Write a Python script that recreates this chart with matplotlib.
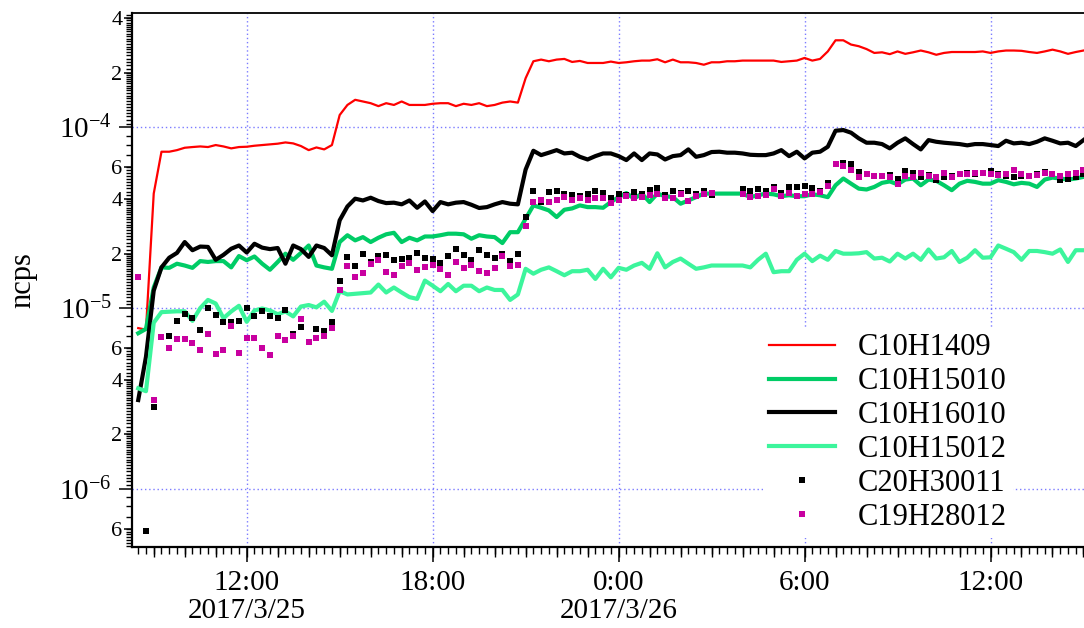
import matplotlib

matplotlib.use("Agg")

import matplotlib.pyplot as plt
import numpy as np
import pandas as pd
from matplotlib.ticker import FixedLocator, NullFormatter, NullLocator
import matplotlib.dates as mdates

nan = np.nan

# 15-minute samples, 2017/3/25 08:30 .. 2017/3/26 15:00 (values in units of 1e-5 ncps)
times = pd.date_range("2017-03-25 08:30", periods=123, freq="15min")

c10h1409 = [
    0.775, 0.76, 4.30, 7.33, 7.33, 7.48, 7.71, 7.78, 7.84, 7.78,
    7.98, 7.84, 7.65, 7.78, 7.81, 7.91, 7.98, 8.05, 8.12, 8.25,
    8.15, 7.88, 7.48, 7.74, 7.55, 7.98, 11.7, 13.3, 14.2, 13.9,
    13.6, 13.1, 13.6, 13.3, 13.9, 13.3, 13.3, 13.3, 13.5, 13.6,
    13.6, 13.1, 13.5, 13.3, 13.6, 13.1, 13.3, 13.7, 13.9, 13.7,
    18.7, 23.2, 23.7, 23.2, 23.7, 23.9, 23.0, 23.3, 22.7, 22.7,
    22.7, 23.1, 22.7, 22.9, 23.2, 23.4, 23.4, 23.8, 22.9, 23.7,
    22.9, 22.9, 22.7, 22.2, 22.9, 22.9, 23.2, 23.2, 23.4, 23.4,
    23.4, 23.4, 23.4, 23.0, 23.2, 23.4, 24.2, 23.4, 23.9, 26.3,
    30.3, 30.3, 28.7, 28.1, 27.1, 25.8, 26.0, 25.4, 26.3, 25.5,
    26.0, 26.6, 26.0, 25.2, 25.8, 26.1, 26.1, 26.1, 26.1, 26.3,
    25.8, 26.3, 26.6, 26.6, 26.5, 26.1, 25.8, 26.3, 26.9, 26.3,
    25.5, 26.1, 26.6,
]

c10h15010 = [
    0.726, 0.767, 1.30, 1.68, 1.67, 1.76, 1.72, 1.67, 1.82, 1.80,
    1.82, 1.82, 1.68, 1.94, 1.84, 1.93, 1.76, 1.63, 1.80, 2.00,
    1.85, 2.02, 2.22, 1.72, 1.68, 1.65, 2.32, 2.53, 2.37, 2.47,
    2.32, 2.45, 2.56, 2.61, 2.32, 2.45, 2.37, 2.49, 2.49, 2.53,
    2.58, 2.58, 2.56, 2.42, 2.53, 2.49, 2.47, 2.29, 2.63, 2.63,
    3.12, 3.70, 3.59, 3.47, 3.19, 3.50, 3.56, 3.70, 3.62, 3.62,
    3.59, 3.86, 4.11, 4.33, 4.03, 4.30, 3.86, 4.30, 4.16, 4.11,
    3.78, 3.94, 4.11, 4.30, 4.30, 4.30, 4.30, 4.30, 4.30, 4.11,
    4.21, 4.30, 4.26, 4.16, 4.21, 4.16, 4.16, 4.26, 4.21, 4.11,
    4.78, 5.21, 4.88, 4.58, 4.53, 4.68, 4.93, 5.02, 4.84, 5.14,
    5.21, 4.78, 5.14, 5.06, 4.78, 4.49, 4.88, 5.06, 4.99, 4.88,
    4.88, 5.10, 4.99, 4.84, 4.93, 4.88, 4.68, 5.14, 5.27, 5.21,
    5.14, 5.21, 5.32,
]

c10h16010 = [
    0.31, 0.538, 1.25, 1.68, 1.90, 2.02, 2.32, 2.09, 2.19, 2.18,
    1.85, 1.97, 2.13, 2.22, 2.03, 2.27, 2.16, 2.12, 2.15, 1.76,
    2.22, 2.12, 1.92, 2.22, 2.15, 1.96, 3.06, 3.65, 4.03, 3.94,
    4.08, 3.91, 3.81, 3.83, 3.75, 3.94, 3.59, 3.89, 3.44, 3.86,
    3.75, 3.83, 3.86, 3.73, 3.58, 3.62, 3.75, 3.86, 3.78, 3.75,
    5.84, 7.42, 7.02, 7.24, 7.48, 7.17, 7.24, 6.87, 6.64, 6.93,
    7.17, 7.17, 6.93, 6.59, 7.17, 6.59, 7.17, 7.08, 6.64, 6.93,
    7.02, 7.55, 6.87, 7.02, 7.30, 7.33, 7.24, 7.24, 7.17, 7.05,
    7.02, 7.02, 7.17, 7.48, 6.93, 7.33, 6.73, 7.24, 7.33, 7.81,
    9.58, 9.66, 9.34, 8.69, 8.22, 8.22, 8.08, 7.65, 8.22, 8.69,
    8.08, 7.55, 8.50, 8.32, 8.22, 8.15, 8.08, 7.95, 8.08, 8.08,
    7.98, 7.88, 8.43, 8.15, 8.22, 8.08, 8.32, 8.69, 8.43, 8.15,
    8.22, 7.88, 8.50,
]

c10h15012 = [
    0.36, 0.347, 0.83, 0.95, 0.955, 0.96, 0.96, 0.85, 1.00, 1.11,
    1.06, 0.88, 0.958, 1.03, 0.84, 0.97, 0.995, 0.97, 0.925, 0.958,
    0.90, 1.02, 1.04, 1.01, 1.085, 0.965, 1.24, 1.19, 1.20, 1.21,
    1.22, 1.35, 1.22, 1.30, 1.22, 1.15, 1.125, 1.42, 1.33, 1.24,
    1.36, 1.24, 1.33, 1.33, 1.24, 1.30, 1.26, 1.26, 1.11, 1.19,
    1.65, 1.55, 1.63, 1.68, 1.60, 1.52, 1.60, 1.60, 1.63, 1.45,
    1.65, 1.48, 1.67, 1.63, 1.72, 1.78, 1.65, 2.01, 1.68, 1.80,
    1.88, 1.76, 1.65, 1.68, 1.72, 1.72, 1.72, 1.72, 1.72, 1.68,
    1.85, 2.00, 1.58, 1.60, 1.60, 1.85, 2.00, 1.82, 1.95, 1.85,
    2.07, 2.00, 2.00, 2.01, 2.04, 1.88, 1.90, 1.81, 2.00, 1.88,
    2.00, 1.85, 2.11, 1.88, 1.91, 2.07, 1.80, 1.90, 2.09, 1.90,
    1.91, 2.22, 2.13, 2.04, 1.85, 2.07, 2.07, 2.04, 2.00, 2.11,
    1.80, 2.09, 2.09,
]

c20h30011 = [
    nan, 0.0586, 0.284, 0.69, 0.70, 0.85, 0.925, 0.885, 0.76, 1.00,
    0.918, 0.843, 0.84, 0.85, 1.00, 0.905, 0.958, 0.905, 0.88, 0.975,
    0.72, 0.79, nan, 0.77, 0.748, 0.835, 1.42, 1.92, 1.72, 2.00,
    1.80, 1.93, 1.97, 1.85, 1.88, 1.90, 2.01, 1.90, 1.88, 1.78,
    1.94, 2.11, 1.96, 1.85, 2.09, 1.96, 1.90, 1.98, 1.82, 1.98,
    3.21, 4.45, 3.86, 4.39, 4.45, 4.30, 4.21, 4.16, 4.26, 4.45,
    4.33, 4.08, 4.30, 4.21, 4.39, 4.26, 4.53, 4.64, 4.21, 4.45,
    4.33, 4.45, 4.26, 4.45, 4.21, nan, nan, nan, 4.58, 4.45,
    4.58, 4.45, 4.68, 4.33, 4.68, 4.68, 4.74, 4.64, 4.45, 4.93,
    6.26, 6.35, 6.30, 5.66, 5.50, 5.36, 5.40, 5.43, 5.21, 5.74,
    5.59, 5.32, 5.43, 5.14, 5.32, 5.36, 5.50, 5.59, 5.50, 5.59,
    5.74, 5.50, 5.36, 5.32, 5.36, 5.36, 5.50, 5.66, 5.50, 5.14,
    5.21, 5.32, 5.54,
]

c19h28012 = [
    1.48, nan, 0.31, 0.69, 0.605, 0.675, 0.675, 0.645, 0.59, 0.72,
    0.56, 0.585, 0.80, 0.565, 0.68, 0.68, 0.605, 0.548, 0.70, 0.665,
    0.70, 0.87, 0.65, 0.68, 0.70, 0.78, 1.26, 1.72, 1.48, 1.56,
    1.76, 1.85, 1.58, 1.53, 1.70, 1.78, 1.63, 1.68, 1.74, 1.65,
    1.515, 1.79, 1.67, 1.74, 1.61, 1.56, 1.67, 1.93, 1.72, 1.74,
    2.83, 3.86, 3.98, 3.86, 3.98, 4.11, 3.98, 4.08, 3.94, 4.08,
    4.08, 3.81, 3.98, 4.16, 4.08, 4.11, 4.21, 4.30, 4.08, 4.08,
    4.26, 3.91, 4.16, 4.26, 4.33, nan, nan, nan, 4.26, 4.11,
    4.16, 4.21, 4.58, 4.16, 4.33, 4.16, 4.26, 4.30, 4.39, 4.72,
    6.26, 6.10, 5.84, 5.32, 5.50, 5.36, 5.36, 5.32, 4.88, 5.36,
    5.32, 5.59, 5.36, 5.32, 5.59, 5.32, 5.54, 5.54, 5.59, 5.59,
    5.50, 5.43, 5.50, 5.79, 5.54, 5.36, 5.43, 5.59, 5.50, 5.36,
    5.50, 5.59, 5.84,
]

# axis ticks
xtick_times = pd.to_datetime(["2017-03-25 12:00", "2017-03-25 18:00", "2017-03-26 00:00",
                              "2017-03-26 06:00", "2017-03-26 12:00"])
xtick_labels = ["12:00\n2017/3/25", "18:00", "0:00\n2017/3/26", "6:00", "12:00"]
decade_ticks = [1e-6, 1e-5, 1e-4]
decade_labels = [r"$10^{-6}$", r"$10^{-5}$", r"$10^{-4}$"]
sub_ticks = [6e-7, 2e-6, 4e-6, 6e-6, 2e-5, 4e-5, 6e-5, 2e-4, 4e-4]
sub_labels = ["6", "2", "4", "6", "2", "4", "6", "2", "4"]

plt.rcParams.update({
    "font.family": "Liberation Serif",
    "mathtext.fontset": "custom",
    "mathtext.rm": "Liberation Serif",
    "mathtext.it": "Liberation Serif",
    "figure.facecolor": "white",
})

fig = plt.figure(figsize=(10.84, 6.28), dpi=100)
ax = fig.add_axes([0.1218, 0.129, 0.8782, 0.850])

scale = 1e-5
ax.plot(times, np.array(c10h1409) * scale, color="#ff0000", lw=1.6, label="C10H1409")
ax.plot(times, np.array(c10h15010) * scale, color="#00cc66", lw=3.0, label="C10H15010")
ax.plot(times, np.array(c10h16010) * scale, color="black", lw=3.0, label="C10H16010")
ax.plot(times, np.array(c10h15012) * scale, color="#3cf59c", lw=3.0, label="C10H15012")
ax.plot(times, np.array(c20h30011) * scale, ls="none", marker="s", ms=5, mew=0,
        color="black", label="C20H30011", zorder=3)
ax.plot(times, np.array(c19h28012) * scale, ls="none", marker="s", ms=5, mew=0,
        color="#c800a0", label="C19H28012", zorder=3)

ax.set_yscale("log")
ax.set_ylim(4.77e-7, 4.28e-4)
ax.set_xlim(pd.Timestamp("2017-03-25 08:18"), pd.Timestamp("2017-03-26 15:01"))

# y: decades (long, labelled), fine unlabelled ticks as minors
fine = []
for p in range(-7, -3):
    for s in np.concatenate([np.arange(1.0, 2.0, 0.05), np.arange(2.0, 4.0, 0.1),
                             np.arange(4.0, 6.0, 0.2), np.arange(6.0, 10.0, 1.0)]):
        fine.append(s * 10.0 ** p)
ax.yaxis.set_major_locator(FixedLocator(decade_ticks))
ax.set_yticklabels(decade_labels)
ax.yaxis.set_minor_locator(FixedLocator(fine))
ax.yaxis.set_minor_formatter(NullFormatter())
ax.tick_params(axis="y", which="major", direction="out", length=9.5, width=1.1,
               labelsize=21, pad=5)
ax.tick_params(axis="y", which="minor", direction="out", length=4, width=1.0)

# y: 2/4/6 labelled sub-ticks on a secondary axis
secy = ax.secondary_yaxis("left")
secy.set_yticks(sub_ticks, sub_labels)
secy.yaxis.set_minor_locator(NullLocator())
secy.tick_params(axis="y", which="major", direction="out", length=6, width=1.1,
                 labelsize=16, pad=1)
for sp in secy.spines.values():
    sp.set_visible(False)

# x: 6 h labelled, hourly on secondary, 15 min minors
ax.set_xticks(xtick_times, xtick_labels)
ax.xaxis.set_minor_locator(mdates.MinuteLocator(byminute=[0, 15, 30, 45]))
ax.tick_params(axis="x", which="major", direction="out", length=11, width=1.1,
               labelsize=21, pad=5.5)
ax.tick_params(axis="x", which="minor", direction="out", length=5, width=1.0)
for lab in ax.get_xticklabels():
    lab.set_linespacing(1.1)

secx = ax.secondary_xaxis("bottom")
secx.xaxis.set_major_locator(mdates.HourLocator())
secx.xaxis.set_major_formatter(NullFormatter())
secx.xaxis.set_minor_locator(NullLocator())
secx.tick_params(axis="x", direction="out", length=7.5, width=1.0)
for sp in secx.spines.values():
    sp.set_visible(False)

ax.grid(True, which="major", color="#7b7bff", linestyle=(0, (1, 2)), linewidth=1.0)
ax.spines["right"].set_visible(False)
ax.spines["left"].set_linewidth(1.6)
ax.spines["bottom"].set_linewidth(1.6)
ax.spines["top"].set_linewidth(1.3)

ax.set_ylabel("ncps", fontsize=22)
ax.yaxis.set_label_coords(-0.099, 0.5)

leg = ax.legend(loc="lower left", bbox_to_anchor=(0.6628, 0.017), borderaxespad=0,
                fontsize=22, frameon=True, fancybox=False, edgecolor="none",
                facecolor="white", framealpha=1.0, borderpad=0.2, labelspacing=0.16,
                handlelength=2.15, handletextpad=0.75, markerscale=0.85)

fig.savefig("out.png", dpi=100)
